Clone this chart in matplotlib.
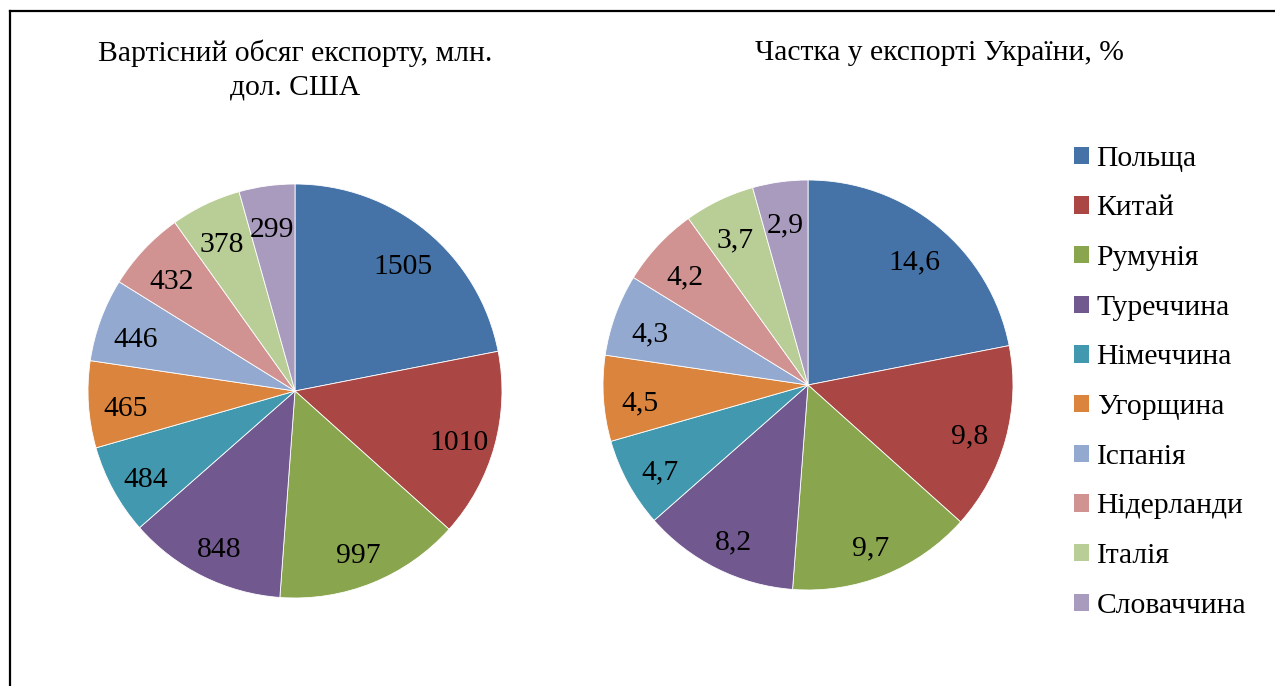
import numpy as np
import matplotlib
matplotlib.use('Agg')
from matplotlib import pyplot as plt
from matplotlib.lines import Line2D
from matplotlib.patches import Patch

plt.rcParams['font.family'] = ['Liberation Serif', 'DejaVu Serif']

countries = ['Польща', 'Китай', 'Румунія', 'Туреччина', 'Німеччина',
             'Угорщина', 'Іспанія', 'Нідерланди', 'Італія', 'Словаччина']
export_value = [1505, 1010, 997, 848, 484, 465, 446, 432, 378, 299]
export_share = [14.6, 9.8, 9.7, 8.2, 4.7, 4.5, 4.3, 4.2, 3.7, 2.9]
share_labels = ['14,6', '9,8', '9,7', '8,2', '4,7', '4,5', '4,3', '4,2', '3,7', '2,9']

colors = ['#4572A7', '#AA4643', '#89A54E', '#71588F', '#4198AF',
          '#DB843D', '#93A9CF', '#D19392', '#B9CD96', '#A99BBD']

W, H = 1275, 686
FS = 21.3
fig = plt.figure(figsize=(W / 100, H / 100), dpi=100)


def pie_axes(cx, cy, r):
    return fig.add_axes([(cx - r) / W, (H - cy - r) / H, 2 * r / W, 2 * r / H])


def draw_pie(ax, values, labels, dist=0.82):
    wedges, _ = ax.pie(values, colors=colors, startangle=90, counterclock=False,
                       radius=1, wedgeprops=dict(edgecolor='white', linewidth=0.6))
    for w, lab in zip(wedges, labels):
        ang = np.deg2rad((w.theta1 + w.theta2) / 2)
        ax.text(dist * np.cos(ang), dist * np.sin(ang) - 0.035, lab,
                ha='center', va='center', fontsize=FS)
    ax.set_xlim(-1, 1)
    ax.set_ylim(-1, 1)
    ax.set_aspect('equal')
    ax.axis('off')


ax1 = pie_axes(295, 391, 207)
draw_pie(ax1, export_value, [str(v) for v in export_value])

ax2 = pie_axes(808, 385, 205)
draw_pie(ax2, export_share, share_labels)

fig.text(295 / W, 1 - 53 / H, 'Вартісний обсяг експорту, млн.', ha='center', va='center', fontsize=FS)
fig.text(295 / W, 1 - 87 / H, 'дол. США', ha='center', va='center', fontsize=FS)
fig.text(939 / W, 1 - 53 / H, 'Частка у експорті України, %', ha='center', va='center', fontsize=FS)

handles = [Patch(facecolor=c, edgecolor='none') for c in colors]
fig.legend(handles, countries, loc='upper left', bbox_to_anchor=(1059 / W, 1 - 131 / H),
           frameon=False, fontsize=FS, handlelength=0.52, handleheight=0.52,
           handletextpad=0.25, labelspacing=0.8, borderpad=0)

# frame lines
fig.add_artist(Line2D([10 / W, 10 / W], [0, 1 - 11 / H], color='black', linewidth=1.6))
fig.add_artist(Line2D([10 / W, 1], [1 - 11 / H, 1 - 11 / H], color='black', linewidth=1.6))

fig.savefig('out.png', dpi=100)
